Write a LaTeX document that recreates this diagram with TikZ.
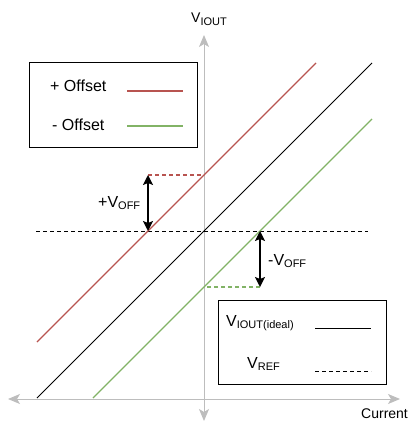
\documentclass[tikz,border=0pt]{standalone}
\usepackage{fontspec}
\setmainfont{Liberation Sans}
\usetikzlibrary{arrows.meta}
\definecolor{offred}{HTML}{B85450}
\definecolor{offgreen}{HTML}{82B366}
\definecolor{axisgray}{HTML}{BDBDBD}
\newcommand{\lowsub}[1]{\raisebox{-0.3ex}{\fontsize{11}{13}\selectfont #1}}

\begin{document}
\begin{tikzpicture}[x=1pt,y=-1pt]
				    \tikzstyle{axis}=[draw,line width = 1pt,axisgray,{Stealth[length=12pt,width=10pt,inset=3pt]}-{Stealth[length=12pt,width=10pt,inset=3pt]}]
				    \tikzstyle{ideal}=[draw,line width = 1pt,black]
				    \tikzstyle{plus}=[draw,line width = 1.2pt,offred]
				    \tikzstyle{minus}=[draw,line width = 1.2pt,offgreen]
				    \tikzstyle{offset}=[draw,line width = 1.4pt,black,{Stealth[length=10pt,width=10pt,inset=2pt]}-{Stealth[length=10pt,width=10pt,inset=2pt]}]
				    \tikzstyle{legend}=[draw,line width = 1pt,black]
				    \tikzstyle{lbl}=[inner sep=0pt,anchor=base west,font=\fontsize{16}{19}\selectfont]
				    \tikzstyle{axislbl}=[inner sep=0pt,anchor=base west,font=\fontsize{14}{17}\selectfont]
				    \useasboundingbox (0,0) rectangle (411,422);
				    % axes
				    \coordinate (yb) at (204,421);
				    \coordinate (yt) at (204,35);
				    \coordinate (xl) at (8,399);
				    \coordinate (xr) at (400,399);
				    \draw[axis] (yb) -- (yt);
				    \draw[axis] (xl) -- (xr);
				    \node[axislbl] (vy) at (191,23) {V\lowsub{IOUT}};
				    \node[axislbl] (cur) at (361,418) {Current};
				    % reference level
				    \coordinate (rl) at (36,231);
				    \coordinate (rr) at (368,231);
				    \draw[ideal,dashed,dash pattern=on 4pt off 3pt] (rl) -- (rr);
				    % transfer lines
				    \draw[ideal] (37,398) -- (372,63);
				    \draw[plus] (37,342) -- (316,63);
				    \draw[minus] (93,398) -- (372,119);
				    % offsets
				    \coordinate (pa) at (148,231);
				    \coordinate (pb) at (148,175);
				    \coordinate (pc) at (204,175);
				    \coordinate (ma) at (260,231);
				    \coordinate (mb) at (260,287);
				    \coordinate (mc) at (204,287);
				    \draw[plus,dashed,dash pattern=on 4pt off 3pt] (pb) -- (pc);
				    \draw[minus,dashed,dash pattern=on 4pt off 3pt] (mb) -- (mc);
				    \draw[offset] (pa) -- (pb);
				    \draw[offset] (ma) -- (mb);
				    \node[lbl] (poff) at (98,207) {+V\lowsub{OFF}};
				    \node[lbl] (moff) at (268,265) {-V\lowsub{OFF}};
				    % legend offsets
				    \draw[legend] (29,63) rectangle (197,147);
				    \node[lbl] (lp) at (50,92) {+ Offset};
				    \node[lbl] (lm) at (52,131) {- Offset};
				    \draw[plus] (127,91) -- (183,91);
				    \draw[minus] (127,126) -- (183,126);
				    % legend ideal
				    \draw[legend] (218,300) rectangle (386,384);
				    \node[lbl] (li) at (226,326) {V\lowsub{IOUT(ideal)}};
				    \node[lbl] (lr) at (247,368) {V\lowsub{REF}};
				    \draw[ideal] (315,328) -- (371,328);
				    \draw[ideal,dashed,dash pattern=on 4pt off 3pt] (315,371) -- (371,371);
				\end{tikzpicture}
\end{document}
